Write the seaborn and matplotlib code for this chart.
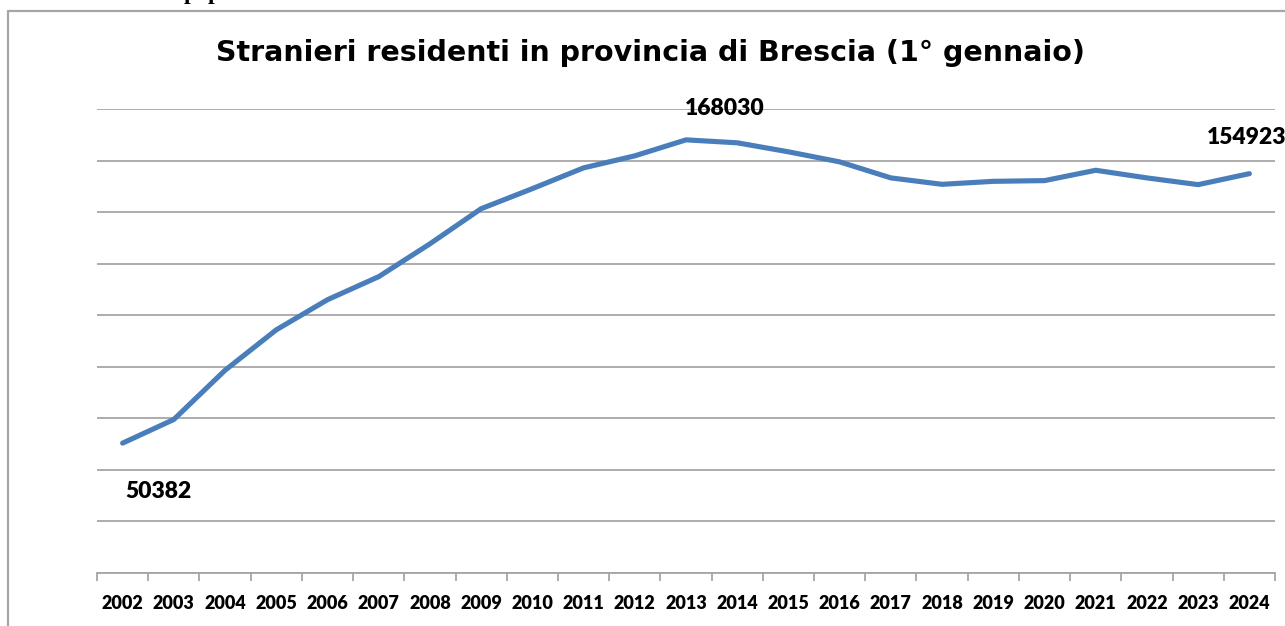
import pandas as pd
import matplotlib.pyplot as plt
import matplotlib.lines as mlines
import seaborn as sns

# =========================
# Dati
# =========================
anni = [str(a) for a in range(2002, 2025)]
stranieri = [50382, 59560, 78640, 94330, 106010, 114960, 127690, 141320,
             149100, 157160, 161830, 168030, 166890, 163390, 159490, 153270,
             150780, 151940, 152220, 156230, 153270, 150660, 154923]
etichette = {"2002": "50382", "2013": "168030", "2024": "154923"}
griglia = list(range(0, 180001, 20000))

df = pd.DataFrame({"anno": anni, "stranieri": stranieri})

# =========================
# Grafico
# =========================
sns.set_style("white")
plt.rcParams['font.family'] = ['DejaVu Sans']
plt.rcParams['text.color'] = 'black'
plt.rcParams['xtick.color'] = 'black'

fig = plt.figure(figsize=(12.85, 6.26), dpi=100)
ax = fig.add_axes([97/1285, 1 - 573/626, (1275 - 97)/1285, (573 - 109)/626])

sns.lineplot(x="anno", y="stranieri", data=df, ax=ax,
             color="#4a7ebb", linewidth=3.7, solid_capstyle="round")

ax.set_xlim(-0.5, len(anni) - 0.5)
ax.set_ylim(0, 180000)
ax.set_yticks(griglia)
ax.set_yticklabels([])
ax.yaxis.grid(True, color="#a6a6a6", linewidth=1.3)
ax.set_axisbelow(True)
ax.tick_params(axis="y", length=0)

ax.set_xticks(range(len(anni)))
ax.set_xticklabels(anni, fontfamily="Lato", fontweight="heavy", fontsize=13,
                   color="black")
ax.set_xticks([i - 0.5 for i in range(len(anni) + 1)], minor=True)
ax.tick_params(axis="x", which="major", length=0, pad=16, bottom=True)
ax.tick_params(axis="x", which="minor", length=6, width=1.3, color="#a6a6a6",
               direction="out", bottom=True)
ax.set_xlabel("")
ax.set_ylabel("")

for s in ["left", "top", "right"]:
    ax.spines[s].set_visible(False)
ax.spines["bottom"].set_color("#a6a6a6")
ax.spines["bottom"].set_linewidth(1.3)

# etichette dei valori
offset = {"2002": (3, -48, "left"), "2013": (39, 31, "center"),
          "2024": (-43, 36, "left")}
for anno, testo in etichette.items():
    i = anni.index(anno)
    dx, dy, ha = offset[anno]
    ax.annotate(testo, (i, stranieri[i]), xytext=(dx * 0.72, dy * 0.72),
                textcoords="offset points", ha=ha, va="center",
                fontfamily="Lato", fontweight="heavy", fontsize=16.5,
                color="black", annotation_clip=False)

# titolo
fig.text(651/1285, 1 - 53/626,
         "Stranieri residenti in provincia di Brescia (1° gennaio)",
         ha="center", va="center", fontsize=20.5, fontweight="bold",
         color="black")

# testo tagliato in alto
fig.text(184/1285, 1 + 1/626, "popolazione", ha="left", va="baseline",
         fontfamily="Liberation Serif", fontweight="bold", fontsize=17,
         color="black")

# bordo dell'area del grafico
fig.add_artist(mlines.Line2D([8/1285, 8/1285], [0, 1 - 11/626],
                             color="#a6a6a6", linewidth=1.6))
fig.add_artist(mlines.Line2D([8/1285, 1], [1 - 11/626, 1 - 11/626],
                             color="#a6a6a6", linewidth=1.6))

plt.savefig("out.png", dpi=100)
